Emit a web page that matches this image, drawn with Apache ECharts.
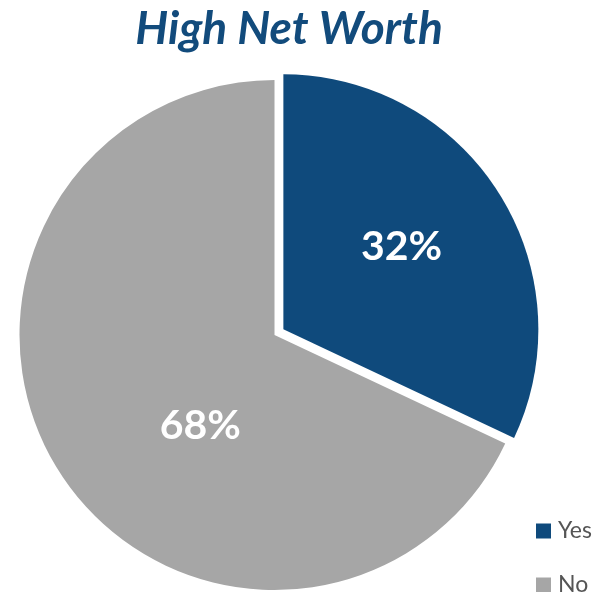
<!DOCTYPE html>
<html>
<head>
<meta charset="utf-8">
<script src="https://cdn.jsdelivr.net/npm/echarts@6/dist/echarts.min.js"></script>
<style>html,body{margin:0;padding:0;background:#fff}#c{width:593px;height:592px}</style>
</head>
<body>
<div id="c"></div>
<script>
const titleText = 'High Net Worth';
const categories = ['Yes', 'No'];
const values = [32, 68];
const colors = ['#0F4A7C', '#A6A6A6'];
const labelOffsets = [[8, -13], [36, 21]];

const legendBase = {
  orient: 'vertical',
  left: 531,
  itemWidth: 15,
  itemHeight: 15,
  icon: 'rect',
  selectedMode: false,
  textStyle: {fontFamily: 'Lato', fontSize: 23, color: '#555555', lineHeight: 22, padding: [0, 0, 0, 2]}
};

const chart = echarts.init(document.getElementById('c'), null, {renderer: 'canvas'});
chart.setOption({
  animation: false,
  title: {
    text: titleText,
    left: 284,
    top: 1,
    textAlign: 'center',
    textStyle: {fontFamily: 'Lato', fontStyle: 'italic', fontWeight: 'bold', fontSize: 46, color: '#124B7C'}
  },
  legend: [
    Object.assign({}, legendBase, {top: 514.5, data: [categories[0]]}),
    Object.assign({}, legendBase, {top: 568.5, data: [categories[1]]})
  ],
  series: [{
    type: 'pie',
    center: [274.5, 335],
    radius: [0, 255],
    startAngle: 90,
    clockwise: true,
    selectedMode: 'single',
    selectedOffset: 10.5,
    silent: true,
    emphasis: {disabled: true},
    label: {
      show: true,
      position: 'inside',
      formatter: '{c}%',
      fontFamily: 'Lato',
      fontWeight: 'bold',
      fontSize: 41,
      color: '#ffffff'
    },
    labelLine: {show: false},
    data: categories.map((n, i) => ({
      name: n,
      value: values[i],
      selected: i === 0,
      itemStyle: {color: colors[i]},
      label: {offset: labelOffsets[i]},
      select: {label: {offset: labelOffsets[i]}}
    }))
  }]
});
</script>
</body>
</html>
